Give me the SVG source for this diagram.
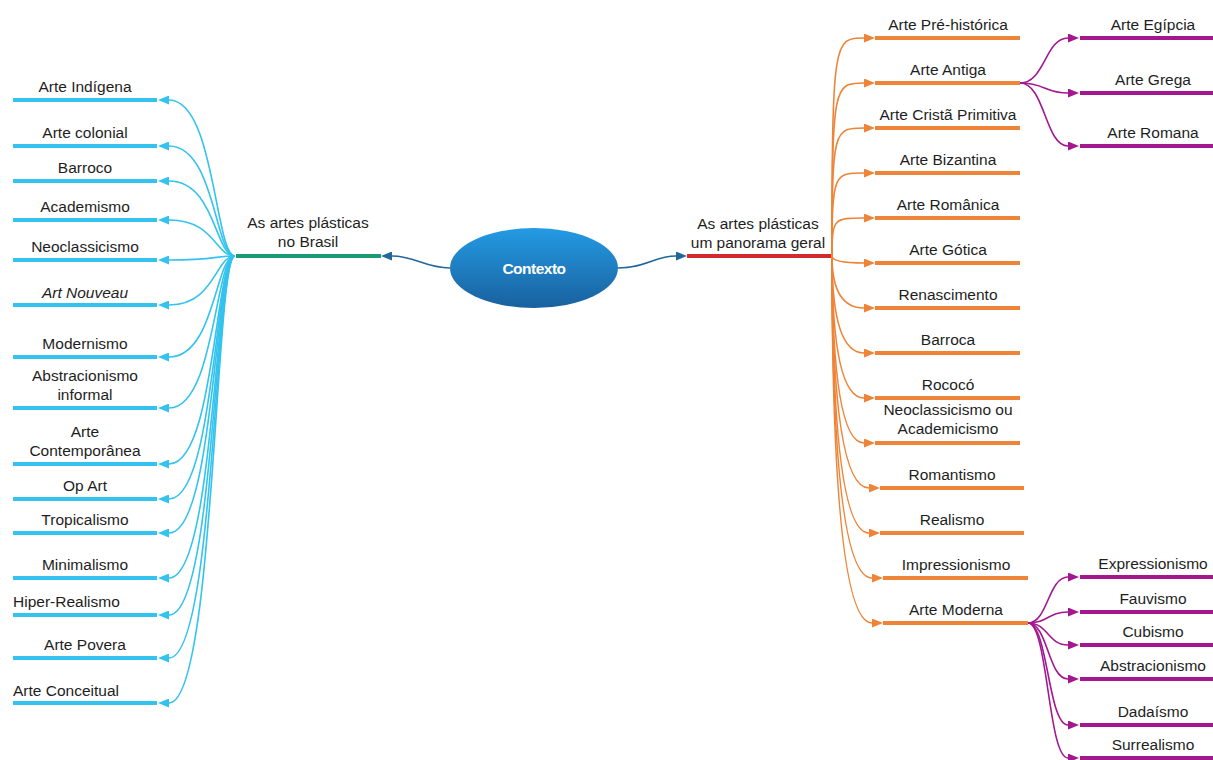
<svg xmlns="http://www.w3.org/2000/svg" width="1213" height="760" viewBox="0 0 1213 760">
<style>
text{font-family:"Liberation Sans",Arial,sans-serif;font-size:15.5px;fill:#1e1e1e}
.c{text-anchor:middle}
.l{text-anchor:start}
.bb{stroke:#33C3EE;stroke-width:4}
.bo{stroke:#EE8438;stroke-width:4}
.bp{stroke:#A3178F;stroke-width:4}
.cb{fill:none;stroke:#33C3EE;stroke-width:1.6;marker-end:url(#mb)}
.co{fill:none;stroke:#EE8438;stroke-width:1.6;marker-end:url(#mo)}
.cp{fill:none;stroke:#A3178F;stroke-width:1.6;marker-end:url(#mp)}
.cd{fill:none;stroke:#22679C;stroke-width:1.6;marker-end:url(#md)}
</style>
<defs>
<marker id="mb" viewBox="0 0 11 9" refX="0" refY="4.5" markerWidth="11" markerHeight="9" markerUnits="userSpaceOnUse" orient="auto"><path d="M0,0L11,4.5L0,9z" fill="#33C3EE"/></marker>
<marker id="mo" viewBox="0 0 11 9" refX="0" refY="4.5" markerWidth="11" markerHeight="9" markerUnits="userSpaceOnUse" orient="auto"><path d="M0,0L11,4.5L0,9z" fill="#EE8438"/></marker>
<marker id="mp" viewBox="0 0 11 9" refX="0" refY="4.5" markerWidth="11" markerHeight="9" markerUnits="userSpaceOnUse" orient="auto"><path d="M0,0L11,4.5L0,9z" fill="#A3178F"/></marker>
<marker id="md" viewBox="0 0 11 9" refX="0" refY="4.5" markerWidth="11" markerHeight="9" markerUnits="userSpaceOnUse" orient="auto"><path d="M0,0L11,4.5L0,9z" fill="#22679C"/></marker>
<linearGradient id="g" x1="0" y1="0" x2="0" y2="1"><stop offset="0" stop-color="#249BE3"/><stop offset="1" stop-color="#19609E"/></linearGradient>
</defs>
<rect width="1213" height="760" fill="#fff"/>

<g id="connectors">
<path class="cd" d="M450,268 C425,268 415,256 392,256"/>
<path class="cd" d="M618,268 C645,268 655,256 676,256"/>
<path class="cb" d="M235,256 C215,256 215,100 169,100"/>
<path class="cb" d="M235,256 C215,256 215,146 169,146"/>
<path class="cb" d="M235,256 C215,256 215,181 169,181"/>
<path class="cb" d="M235,256 C215,256 215,220 169,220"/>
<path class="cb" d="M235,256 C215,256 215,260 169,260"/>
<path class="cb" d="M235,256 C215,256 215,305 169,305"/>
<path class="cb" d="M235,256 C215,256 215,357 169,357"/>
<path class="cb" d="M235,256 C215,256 215,408 169,408"/>
<path class="cb" d="M235,256 C215,256 215,464 169,464"/>
<path class="cb" d="M235,256 C215,256 215,499 169,499"/>
<path class="cb" d="M235,256 C215,256 215,533 169,533"/>
<path class="cb" d="M235,256 C215,256 215,578 169,578"/>
<path class="cb" d="M235,256 C215,256 215,615 169,615"/>
<path class="cb" d="M235,256 C215,256 215,658 169,658"/>
<path class="cb" d="M235,256 C215,256 215,703 169,703"/>
<path class="co" d="M832,256 C832,38 834,38 864,38"/>
<path class="co" d="M832,256 C832,83 834,83 864,83"/>
<path class="co" d="M832,256 C832,128 834,128 864,128"/>
<path class="co" d="M832,256 C832,173 834,173 864,173"/>
<path class="co" d="M832,256 C832,218 834,218 864,218"/>
<path class="co" d="M832,256 Q832,263 864,263"/>
<path class="co" d="M832,256 Q832,308 864,308"/>
<path class="co" d="M832,256 Q832,353 864,353"/>
<path class="co" d="M832,256 Q832,398 864,398"/>
<path class="co" d="M832,256 Q832,443 864,443"/>
<path class="co" d="M832,256 Q832,488 869,488"/>
<path class="co" d="M832,256 Q832,533 869,533"/>
<path class="co" d="M832,256 Q832,578 872,578"/>
<path class="co" d="M832,256 Q832,623 872,623"/>
<path class="cp" d="M1020,83 C1045,83 1045,38 1068,38"/>
<path class="cp" d="M1020,83 C1045,83 1045,93 1068,93"/>
<path class="cp" d="M1020,83 C1045,83 1045,146 1068,146"/>
<path class="cp" d="M1028,623 C1048,623 1048,577 1068,577"/>
<path class="cp" d="M1028,623 C1048,623 1048,612 1068,612"/>
<path class="cp" d="M1028,623 C1048,623 1048,645 1068,645"/>
<path class="cp" d="M1028,623 C1048,623 1048,679 1068,679"/>
<path class="cp" d="M1028,623 C1048,623 1048,725 1068,725"/>
<path class="cp" d="M1028,623 C1048,623 1048,758 1068,758"/>
</g>

<g id="contexto">
<ellipse cx="534" cy="268" rx="84" ry="40" fill="url(#g)"/>
<text class="c" x="534" y="274" style="fill:#fff;font-weight:bold;letter-spacing:-0.5px">Contexto</text>
</g>

<g id="brasil">
<line x1="236" y1="256" x2="381" y2="256" stroke="#1C9A78" stroke-width="4"/>
<text class="c" x="308" y="228">As artes plásticas</text>
<text class="c" x="308" y="247">no Brasil</text>
</g>

<g id="panorama">
<line x1="687" y1="256" x2="831" y2="256" stroke="#D32A2D" stroke-width="4"/>
<text class="c" x="758" y="229">As artes plásticas</text>
<text class="c" x="758" y="248">um panorama geral</text>
</g>

<g id="arte-indigena"><line class="bb" x1="13" y1="100" x2="157" y2="100"/><text class="c" x="85" y="92">Arte Indígena</text></g>
<g id="arte-colonial"><line class="bb" x1="13" y1="146" x2="157" y2="146"/><text class="c" x="85" y="138">Arte colonial</text></g>
<g id="barroco"><line class="bb" x1="13" y1="181" x2="157" y2="181"/><text class="c" x="85" y="173">Barroco</text></g>
<g id="academismo"><line class="bb" x1="13" y1="220" x2="157" y2="220"/><text class="c" x="85" y="212">Academismo</text></g>
<g id="neoclassicismo"><line class="bb" x1="13" y1="260" x2="157" y2="260"/><text class="c" x="85" y="252">Neoclassicismo</text></g>
<g id="art-nouveau"><line class="bb" x1="13" y1="305" x2="157" y2="305"/><text class="c" x="85" y="298" font-style="italic">Art Nouveau</text></g>
<g id="modernismo"><line class="bb" x1="13" y1="357" x2="157" y2="357"/><text class="c" x="85" y="349">Modernismo</text></g>
<g id="abstracionismo-informal"><line class="bb" x1="13" y1="408" x2="157" y2="408"/><text class="c" x="85" y="381">Abstracionismo</text><text class="c" x="85" y="400">informal</text></g>
<g id="arte-contemporanea"><line class="bb" x1="13" y1="464" x2="157" y2="464"/><text class="c" x="85" y="437">Arte</text><text class="c" x="85" y="456">Contemporânea</text></g>
<g id="op-art"><line class="bb" x1="13" y1="499" x2="157" y2="499"/><text class="c" x="85" y="491">Op Art</text></g>
<g id="tropicalismo"><line class="bb" x1="13" y1="533" x2="157" y2="533"/><text class="c" x="85" y="525">Tropicalismo</text></g>
<g id="minimalismo"><line class="bb" x1="13" y1="578" x2="157" y2="578"/><text class="c" x="85" y="570">Minimalismo</text></g>
<g id="hiper-realismo"><line class="bb" x1="13" y1="615" x2="157" y2="615"/><text class="l" x="13" y="607">Hiper-Realismo</text></g>
<g id="arte-povera"><line class="bb" x1="13" y1="658" x2="157" y2="658"/><text class="c" x="85" y="650">Arte Povera</text></g>
<g id="arte-conceitual"><line class="bb" x1="13" y1="703" x2="157" y2="703"/><text class="l" x="13" y="696">Arte Conceitual</text></g>

<g id="arte-pre-historica"><line class="bo" x1="875" y1="38" x2="1020" y2="38"/><text class="c" x="948" y="30">Arte Pré-histórica</text></g>
<g id="arte-antiga"><line class="bo" x1="875" y1="83" x2="1020" y2="83"/><text class="c" x="948" y="75">Arte Antiga</text></g>
<g id="arte-crista-primitiva"><line class="bo" x1="875" y1="128" x2="1020" y2="128"/><text class="c" x="948" y="120">Arte Cristã Primitiva</text></g>
<g id="arte-bizantina"><line class="bo" x1="875" y1="173" x2="1020" y2="173"/><text class="c" x="948" y="165">Arte Bizantina</text></g>
<g id="arte-romanica"><line class="bo" x1="875" y1="218" x2="1020" y2="218"/><text class="c" x="948" y="210">Arte Românica</text></g>
<g id="arte-gotica"><line class="bo" x1="875" y1="263" x2="1020" y2="263"/><text class="c" x="948" y="255">Arte Gótica</text></g>
<g id="renascimento"><line class="bo" x1="875" y1="308" x2="1020" y2="308"/><text class="c" x="948" y="300">Renascimento</text></g>
<g id="barroca"><line class="bo" x1="875" y1="353" x2="1020" y2="353"/><text class="c" x="948" y="345">Barroca</text></g>
<g id="rococo"><line class="bo" x1="875" y1="398" x2="1020" y2="398"/><text class="c" x="948" y="390">Rococó</text></g>
<g id="neoclassicismo-academicismo"><line class="bo" x1="875" y1="443" x2="1020" y2="443"/><text class="c" x="948" y="415">Neoclassicismo ou</text><text class="c" x="948" y="434">Academicismo</text></g>
<g id="romantismo"><line class="bo" x1="880" y1="488" x2="1024" y2="488"/><text class="c" x="952" y="480">Romantismo</text></g>
<g id="realismo"><line class="bo" x1="880" y1="533" x2="1024" y2="533"/><text class="c" x="952" y="525">Realismo</text></g>
<g id="impressionismo"><line class="bo" x1="883" y1="578" x2="1028" y2="578"/><text class="c" x="956" y="570">Impressionismo</text></g>
<g id="arte-moderna"><line class="bo" x1="883" y1="623" x2="1028" y2="623"/><text class="c" x="956" y="615">Arte Moderna</text></g>

<g id="arte-egipcia"><line class="bp" x1="1080" y1="38" x2="1213" y2="38"/><text class="c" x="1153" y="30">Arte Egípcia</text></g>
<g id="arte-grega"><line class="bp" x1="1080" y1="93" x2="1213" y2="93"/><text class="c" x="1153" y="85">Arte Grega</text></g>
<g id="arte-romana"><line class="bp" x1="1080" y1="146" x2="1213" y2="146"/><text class="c" x="1153" y="138">Arte Romana</text></g>
<g id="expressionismo"><line class="bp" x1="1080" y1="577" x2="1213" y2="577"/><text class="c" x="1153" y="569">Expressionismo</text></g>
<g id="fauvismo"><line class="bp" x1="1080" y1="612" x2="1213" y2="612"/><text class="c" x="1153" y="604">Fauvismo</text></g>
<g id="cubismo"><line class="bp" x1="1080" y1="645" x2="1213" y2="645"/><text class="c" x="1153" y="637">Cubismo</text></g>
<g id="abstracionismo"><line class="bp" x1="1080" y1="679" x2="1213" y2="679"/><text class="c" x="1153" y="671">Abstracionismo</text></g>
<g id="dadaismo"><line class="bp" x1="1080" y1="725" x2="1213" y2="725"/><text class="c" x="1153" y="717">Dadaísmo</text></g>
<g id="surrealismo"><line class="bp" x1="1080" y1="758" x2="1213" y2="758"/><text class="c" x="1153" y="750">Surrealismo</text></g>
</svg>
